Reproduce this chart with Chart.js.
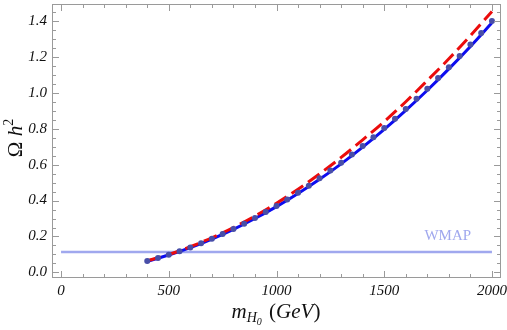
<!DOCTYPE html>
<html>
<head>
<meta charset="utf-8">
<script src="https://cdn.jsdelivr.net/npm/chart.js@4.4.0/dist/chart.umd.min.js"></script>
<style>
  html, body { margin: 0; padding: 0; background: #fff; }
  canvas { display: block; }
</style>
</head>
<body>
<canvas id="omegaChart" width="507" height="330"></canvas>
<script>
// dots (numerical points), every 50 GeV
const massDots = [400, 450, 500, 550, 600, 650, 700, 750, 800, 850, 900, 950, 1000, 1050, 1100, 1150,
  1200, 1250, 1300, 1350, 1400, 1450, 1500, 1550, 1600, 1650, 1700, 1750, 1800, 1850, 1900, 1950, 2000];
const omegaDots = [0.063, 0.080, 0.098, 0.118, 0.139, 0.163, 0.187, 0.214, 0.242, 0.271, 0.303, 0.336,
  0.370, 0.406, 0.444, 0.483, 0.524, 0.567, 0.611, 0.657, 0.704, 0.753, 0.804, 0.856, 0.910, 0.966,
  1.023, 1.082, 1.142, 1.204, 1.268, 1.333, 1.400];

// curves, every 100 GeV
const massLine = [400, 500, 600, 700, 800, 900, 1000, 1100, 1200, 1300, 1400, 1500, 1600, 1700, 1800, 1900, 2000];
const omegaBlue = [0.062, 0.097, 0.138, 0.186, 0.240, 0.300, 0.366, 0.439, 0.518, 0.604, 0.697, 0.796,
  0.902, 1.014, 1.133, 1.258, 1.390];
const omegaRed = [0.065, 0.100, 0.143, 0.193, 0.250, 0.314, 0.385, 0.463, 0.549, 0.640, 0.738, 0.840,
  0.950, 1.068, 1.189, 1.318, 1.452];

// WMAP band value
const wmapMass = [0, 2000];
const wmapOmega = [0.114, 0.114];
const wmapLabel = 'WMAP';

// ticks
const xTicks = [0, 500, 1000, 1500, 2000];
const yTicks = [0.0, 0.2, 0.4, 0.6, 0.8, 1.0, 1.2, 1.4];

const serif = '"Liberation Serif", "DejaVu Serif", serif';
const frameColor = '#9a9a9a';

function pts(xs, ys) {
  return xs.map((x, i) => ({ x: x, y: ys[i] }));
}

// frame with inward ticks on all four sides + WMAP label + axis titles
const mathFrame = {
  id: 'mathFrame',
  afterDatasetsDraw(chart) {
    const ctx = chart.ctx;
    const a = chart.chartArea;
    const xs = chart.scales.x, ys = chart.scales.y;
    ctx.save();
    ctx.strokeStyle = frameColor;
    ctx.lineWidth = 1;
    ctx.strokeRect(a.left + 0.5, a.top + 0.5, a.right - a.left - 1, a.bottom - a.top - 1);

    ctx.beginPath();
    for (let v = 0; v <= 2000; v += 100) {
      const len = (v % 500 === 0) ? 7 : 4;
      const px = Math.round(xs.getPixelForValue(v)) + 0.5;
      ctx.moveTo(px, a.bottom); ctx.lineTo(px, a.bottom - len);
      ctx.moveTo(px, a.top); ctx.lineTo(px, a.top + len);
    }
    for (let k = 0; k <= 29; k++) {
      const v = k * 0.05;
      const len = (k % 4 === 0) ? 7 : 4;
      const py = Math.round(ys.getPixelForValue(v)) + 0.5;
      if (py < a.top || py > a.bottom) continue;
      ctx.moveTo(a.left, py); ctx.lineTo(a.left + len, py);
      ctx.moveTo(a.right, py); ctx.lineTo(a.right - len, py);
    }
    ctx.stroke();

    // WMAP label
    ctx.fillStyle = 'rgb(160,168,238)';
    ctx.font = '15px ' + serif;
    ctx.textAlign = 'center';
    ctx.textBaseline = 'middle';
    ctx.fillText(wmapLabel, xs.getPixelForValue(1795), ys.getPixelForValue(0.2));

    ctx.fillStyle = '#111';
    ctx.textBaseline = 'alphabetic';
    ctx.textAlign = 'left';

    // x title: m_{H_0} (GeV)
    const parts = [
      { t: 'm', f: 'italic 21px ' + serif, dy: 0 },
      { t: 'H', f: 'italic 14px ' + serif, dy: 4 },
      { t: '0', f: 'italic 10px ' + serif, dy: 7 },
      { t: ' (', f: '21px ' + serif, dy: 0, pad: 2 },
      { t: 'GeV', f: 'italic 21px ' + serif, dy: 0 },
      { t: ')', f: '21px ' + serif, dy: 0 }
    ];
    let total = 0;
    parts.forEach(p => { ctx.font = p.f; p.w = ctx.measureText(p.t).width + (p.pad || 0); total += p.w; });
    let cx = 276 - total / 2;
    const base = 318;
    parts.forEach(p => { ctx.font = p.f; ctx.fillText(p.t, cx + (p.pad || 0), base + p.dy); cx += p.w; });

    // y title: Ω h^2
    ctx.translate(22, 138);
    ctx.rotate(-Math.PI / 2);
    const yp = [
      { t: 'Ω', f: '21px ' + serif, dy: 0 },
      { t: ' h', f: 'italic 21px ' + serif, dy: 0 },
      { t: '2', f: '14px ' + serif, dy: -9 }
    ];
    total = 0;
    yp.forEach(p => { ctx.font = p.f; p.w = ctx.measureText(p.t).width; total += p.w; });
    cx = -total / 2;
    yp.forEach(p => { ctx.font = p.f; ctx.fillText(p.t, cx, p.dy); cx += p.w; });
    ctx.restore();
  }
};

const ctx = document.getElementById('omegaChart').getContext('2d');
const chart = new Chart(ctx, {
  type: 'scatter',
  data: {
    datasets: [
      {
        label: 'points',
        data: pts(massDots, omegaDots),
        showLine: false,
        pointRadius: 3,
        pointBackgroundColor: 'rgb(72,78,168)',
        pointBorderWidth: 0
      },
      {
        label: 'approx',
        data: pts(massLine, omegaRed),
        showLine: true,
        borderColor: 'rgb(235,12,12)',
        borderWidth: 3,
        borderDash: [14, 6],
        pointRadius: 0,
        cubicInterpolationMode: 'monotone'
      },
      {
        label: 'fit',
        data: pts(massLine, omegaBlue),
        showLine: true,
        borderColor: 'rgb(12,12,240)',
        borderWidth: 3,
        pointRadius: 0,
        cubicInterpolationMode: 'monotone'
      },
      {
        label: 'WMAP',
        data: pts(wmapMass, wmapOmega),
        showLine: true,
        borderColor: 'rgb(160,168,238)',
        borderWidth: 2.5,
        pointRadius: 0
      }
    ]
  },
  options: {
    responsive: false,
    animation: false,
    devicePixelRatio: 1,
    layout: { padding: { top: 0, right: 6, left: 0, bottom: 0 } },
    plugins: {
      legend: { display: false },
      tooltip: { enabled: false }
    },
    scales: {
      x: {
        type: 'linear',
        min: -42,
        max: 2042,
        grid: { display: false, drawTicks: false },
        border: { display: false },
        afterBuildTicks: s => { s.ticks = xTicks.map(v => ({ value: v })); },
        afterFit: s => { s.height = 52; s.paddingLeft = 0; s.paddingRight = 0; },
        ticks: {
          padding: 4,
          maxRotation: 0,
          color: '#111',
          font: { family: serif, style: 'italic', size: 15 },
          callback: v => String(v)
        }
      },
      y: {
        type: 'linear',
        min: -0.031,
        max: 1.494,
        grid: { display: false, drawTicks: false },
        border: { display: false },
        afterBuildTicks: s => { s.ticks = yTicks.map(v => ({ value: v })); },
        afterFit: s => { s.width = 52; s.paddingTop = 0; s.paddingBottom = 0; },
        ticks: {
          padding: 5,
          color: '#111',
          font: { family: serif, style: 'italic', size: 15 },
          callback: v => v.toFixed(1)
        }
      }
    }
  },
  plugins: [mathFrame]
});
</script>
</body>
</html>
